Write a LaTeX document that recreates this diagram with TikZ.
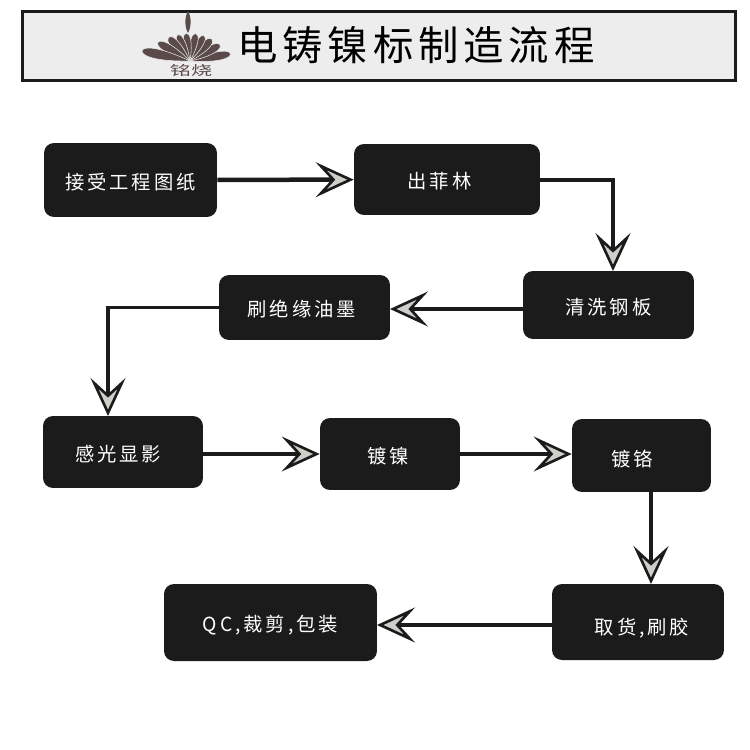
\documentclass[tikz,border=0pt]{standalone}
\usepackage{fontspec}
\setmainfont{Noto Sans CJK SC}
\usetikzlibrary{arrows.meta}
\definecolor{boxblack}{HTML}{1B1B1B}
\definecolor{bargray}{HTML}{EDEDED}
\definecolor{tipgray}{HTML}{CFCFC9}
\definecolor{logobrown}{HTML}{5A4A4A}
\tikzset{
  k/.style={rectangle,fill=boxblack,text=white,rounded corners=2mm,inner sep=0pt,align=center,text height=11pt,text depth=0.2pt,font=\fontsize{11}{12}\selectfont\addfontfeature{LetterSpace=15}},
  link/.style={draw=boxblack,line width=#1,-{Stealth[length=7.6mm,width=7mm,inset=3.2mm,fill=tipgray,line width=1.5pt]}},
  petal/.style={fill=logobrown,draw=bargray,line width=0.3pt}
}
\begin{document}
\begin{tikzpicture}[x=0.02cm,y=-0.02cm]
  \useasboundingbox (0,0) rectangle (750,750);

  % title bar
  \node[rectangle,draw=boxblack,fill=bargray,line width=0.6mm,minimum width=14.26cm,minimum height=1.4cm,inner sep=0pt] (bar) at (379,46) {};
  \node[inner sep=0pt,font=\fontsize{23}{26}\selectfont\addfontfeature{LetterSpace=12}] (title) at (416,45) {电铸镍标制造流程};

  % logo
  \foreach \ang/\len/\wid in {-80/41/7,-62/34/7,-45/31/7,-29/29/6,-12/28/6,8/28/6,25/29/6,42/32/7,60/37/7,78/49/8}
    \fill[petal,rotate around={\ang:(190,61)}] (190,61) .. controls (190-\wid,61-0.7*\len) and (190-0.6*\wid,61-\len) .. (190,61-\len) .. controls (190+0.6*\wid,61-\len) and (190+\wid,61-0.7*\len) .. (190,61) -- cycle;
  \fill[logobrown] (188,11) .. controls (184,18) and (185,28) .. (188,33) .. controls (191,28) and (192,18) .. (188,11) -- cycle;
  \node[inner sep=0pt,text=logobrown,xscale=1.6,transform shape,font=\fontsize{7.5}{9}\selectfont] (logotext) at (191,71) {铭烧};

  % steps
  \node[k,minimum width=3.46cm,minimum height=1.48cm] (drawing) at (130.5,180) {接受工程图纸};
  \node[k,minimum width=3.72cm,minimum height=1.42cm] (film) at (447,179.5) {出菲林\hspace{8.5pt}};
  \node[k,minimum width=3.42cm,minimum height=1.36cm] (plate) at (608.5,305) {清洗钢板};
  \node[k,minimum width=3.42cm,minimum height=1.3cm] (ink) at (304.5,307.5) {刷绝缘油墨\hspace{3pt}};
  \node[k,minimum width=3.2cm,minimum height=1.44cm] (expose) at (123,452) {感光显影\hspace{5.5pt}};
  \node[k,minimum width=2.8cm,minimum height=1.44cm] (nickel) at (390,454) {镀镍\hspace{2pt}};
  \node[k,minimum width=2.78cm,minimum height=1.46cm] (chrome) at (641.5,455.5) {\raisebox{-1pt}{镀铬}\hspace{10.8pt}};
  \node[k,minimum width=3.44cm,minimum height=1.52cm] (pick) at (638,622) {\hspace{4.5pt}\raisebox{-1.5pt}{取货,刷胶}};
  \node[k,minimum width=4.26cm,minimum height=1.54cm] (pack) at (270.5,622.5) {QC,裁剪,包装};

  \coordinate (platein) at (613,271);
  \coordinate (exposein) at (108,416);
  \coordinate (chromeout) at (651,492);
  \coordinate (pickin) at (651,584);
  \coordinate (plateout) at (523,309);
  \coordinate (inkin) at (390,309);
  \coordinate (pickout) at (552,625);
  \coordinate (packin) at (377,625);

  \draw[link=0.9mm] (drawing) -- (film);
  \draw[link=0.8mm] (film.east) -| (platein);
  \draw[link=0.8mm] (plateout) -- (inkin);
  \draw[link=0.7mm] (ink.west) -| (exposein);
  \draw[link=0.9mm] (expose.east |- nickel) -- (nickel);
  \draw[link=0.7mm] (nickel) -- (chrome.west |- nickel);
  \draw[link=0.9mm] (chromeout) -- (pickin);
  \draw[link=0.7mm] (pickout) -- (packin);
\end{tikzpicture}
\end{document}
